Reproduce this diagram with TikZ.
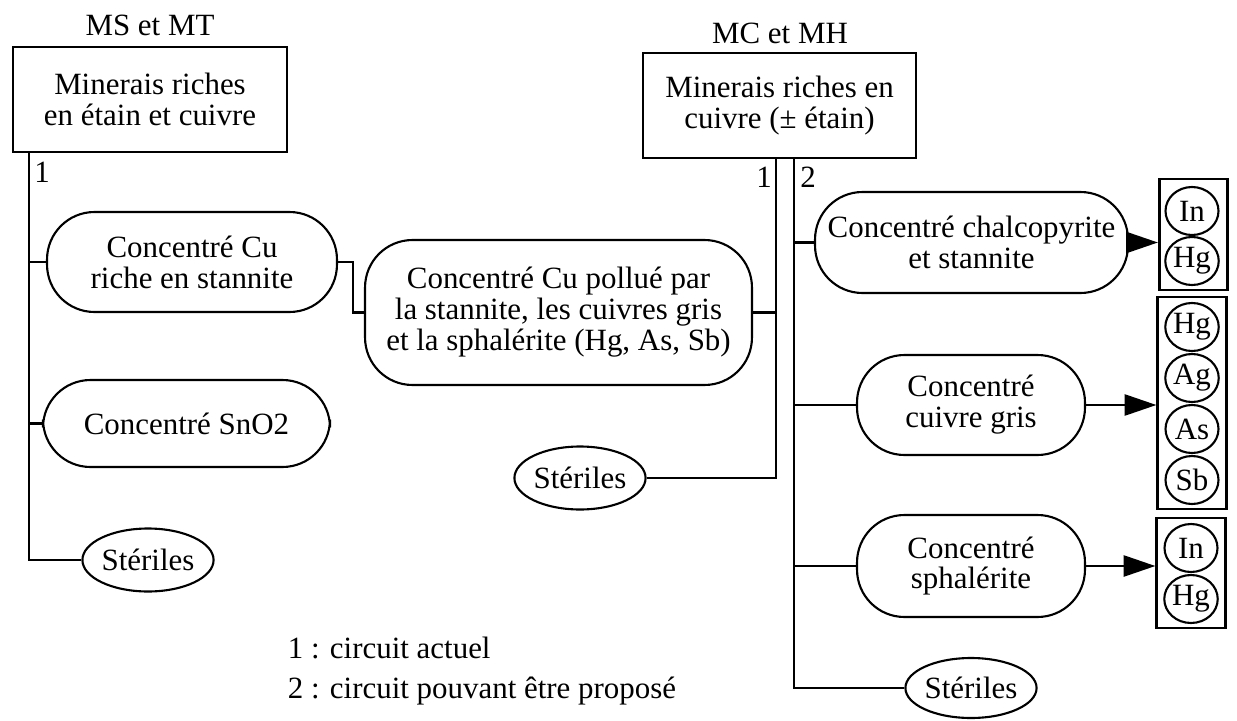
\documentclass[tikz,border=0pt]{standalone}
\usepackage{fontspec}
\setmainfont{Liberation Serif}
\usetikzlibrary{shapes.geometric,arrows.meta}
\begin{document}
\begin{tikzpicture}[x=0.02cm, y=-0.02cm, line width=1.2pt,
  every node/.style={font=\fontsize{17.6}{17.6}\selectfont},
  minbox/.style={draw, align=center, inner sep=0pt},
  conc/.style={draw, rounded corners=27pt, align=center, inner sep=0pt},
  steril/.style={draw, ellipse, inner sep=0pt, minimum width=2.62cm, minimum height=1.26cm},
  elem/.style={draw, ellipse, inner sep=0pt, minimum width=1.06cm, minimum height=0.96cm},
  elbox/.style={draw, line width=1.6pt, minimum width=1.37cm, inner sep=0pt},
  fleche/.style={-{Triangle[length=18pt,width=12pt]}}]
  \useasboundingbox (0,0) rectangle (1237,720);
  \node (msmt) at (150,25) {MS et MT};
  \node[minbox, minimum width=5.48cm, minimum height=2.1cm] (ms) at (150,99.5) {Minerais riches\\en étain et cuivre};
  \node (mcmh) at (780,33) {MC et MH};
  \node[minbox, minimum width=5.46cm, minimum height=2.1cm] (mc) at (779.5,105.5) {Minerais riches en\\cuivre (± étain)};
  \node[conc, minimum width=5.8cm, minimum height=2cm] (cust) at (192,262) {Concentré Cu\\riche en stannite};
  \node[conc, minimum width=5.74cm, minimum height=1.74cm] (sno) at (186.5,423.5) {Concentré SnO2};
  \node[steril] (sterA) at (148,560) {Stériles};
  \node[conc, minimum width=7.74cm, minimum height=2.9cm] (poll) at (558.5,312.5) {Concentré Cu pollué par\\la stannite, les cuivres gris\\et la sphalérite (Hg, As, Sb)};
  \node[steril] (sterB) at (580,478) {Stériles};
  \node[conc, minimum width=6.26cm, minimum height=2.02cm] (chal) at (971.5,242.5) {Concentré chalcopyrite\\et stannite};
  \node[conc, minimum width=4.56cm, minimum height=2cm] (gris) at (971,405) {Concentré\\cuivre gris};
  \node[conc, minimum width=4.56cm, minimum height=2.04cm] (spha) at (971,566) {Concentré\\sphalérite};
  \node[steril, minimum height=1.2cm] (sterC) at (971,688) {Stériles};
  \node[elbox, minimum height=2.22cm] (elA) at (1193.5,234.5) {};
  \node[elem] (inA) at (1192,211) {In};
  \node[elem] (hgA) at (1192,261) {Hg};
  \node[elbox, minimum height=4.24cm] (elB) at (1192,403) {};
  \node[elem] (hgB) at (1192,327) {Hg};
  \node[elem] (agB) at (1192,378) {Ag};
  \node[elem] (asB) at (1192,429) {As};
  \node[elem] (sbB) at (1192,480) {Sb};
  \node[elbox, minimum height=2.2cm] (elC) at (1191,573) {};
  \node[elem] (inC) at (1191,548) {In};
  \node[elem] (hgC) at (1191,599) {Hg};
  \coordinate (lA) at (29,152);
  \coordinate (r1) at (776,158);
  \coordinate (r2) at (794,158);
  \node (n1a) at (42,172) {1};
  \node (n1b) at (764,177) {1};
  \node (n2b) at (808,177) {2};
  \draw (lA) |- (sterA.west);
  \draw (cust.west) -- (cust.west -| lA);
  \draw (sno.west) -- (sno.west -| lA);
  \draw (cust.east) -- ++(15,0) |- (poll.west);
  \draw (r1) |- (sterB.east);
  \draw (poll.east) -- (poll.east -| r1);
  \draw (r2) |- (sterC.west);
  \draw (chal.west) -- (chal.west -| r2);
  \draw (gris.west) -- (gris.west -| r2);
  \draw (spha.west) -- (spha.west -| r2);
  \draw[fleche] (chal.east) -- (chal.east -| elA.west);
  \draw[fleche] (gris.east) -- (gris.east -| elB.west);
  \draw[fleche] (spha.east) -- (spha.east -| elC.west);
  \node[anchor=base west] (leg1) at (281,658) {1 : circuit actuel};
  \node[anchor=base west] (leg2) at (281,698) {2 : circuit pouvant être proposé};
\end{tikzpicture}
\end{document}
